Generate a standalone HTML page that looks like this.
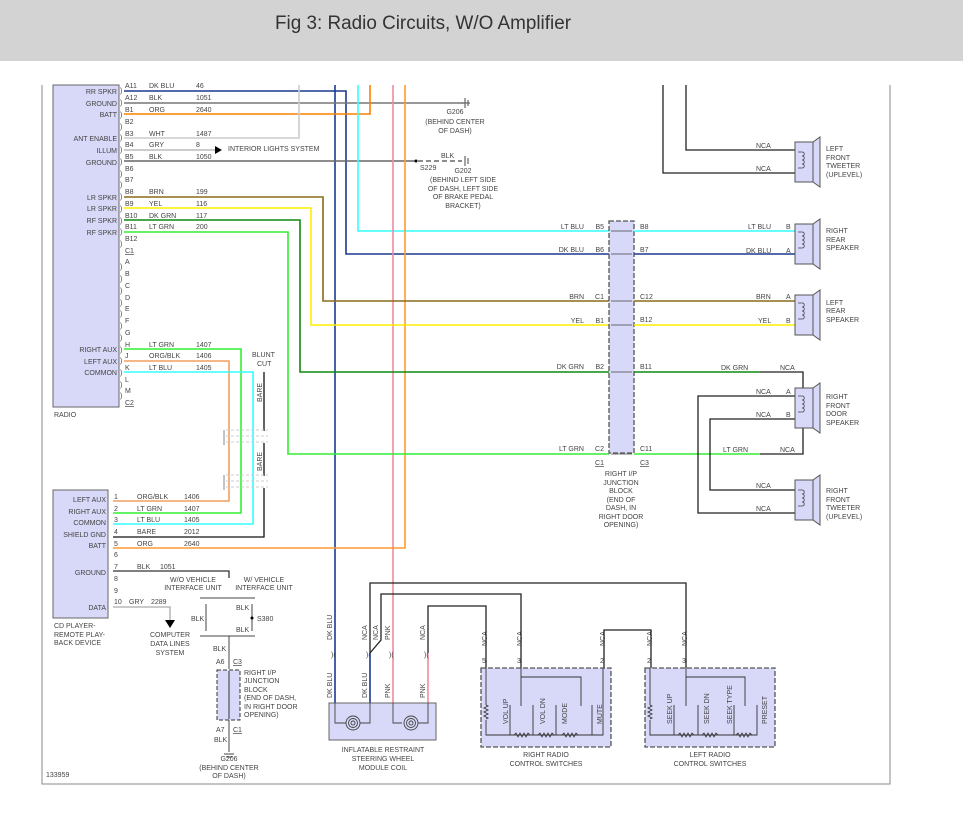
<!DOCTYPE html>
<html><head><meta charset="utf-8"><style>
html,body{margin:0;padding:0;background:#fff}
svg{display:block}
text{font-family:"Liberation Sans",sans-serif;font-size:7px;fill:#444}
</style></head><body>
<svg width="963" height="824" viewBox="0 0 963 824" xmlns="http://www.w3.org/2000/svg">
<rect x="0" y="0" width="963" height="61" fill="#d3d3d3"/>
<text x="275" y="29" style="font-size:19px;fill:#333" textLength="296" lengthAdjust="spacingAndGlyphs">Fig 3: Radio Circuits, W/O Amplifier</text>
<path d="M42 85 V784 H890 V85" fill="none" stroke="#888" stroke-width="1"/>

<rect x="53" y="85" width="66" height="322" fill="#d8d8f8" stroke="#666"/>
<g text-anchor="end">
<text x="117" y="94">RR SPKR</text><text x="117" y="106">GROUND</text><text x="117" y="117">BATT</text>
<text x="117" y="141">ANT ENABLE</text><text x="117" y="153">ILLUM</text><text x="117" y="165">GROUND</text>
<text x="117" y="200">LR SPKR</text><text x="117" y="211">LR SPKR</text><text x="117" y="223">RF SPKR</text><text x="117" y="235">RF SPKR</text>
<text x="117" y="352">RIGHT AUX</text><text x="117" y="364">LEFT AUX</text><text x="117" y="375">COMMON</text>
</g>
<text x="54" y="417">RADIO</text>
<g>
<text x="125" y="88">A11</text><text x="125" y="100">A12</text><text x="125" y="112">B1</text><text x="125" y="124">B2</text><text x="125" y="136">B3</text><text x="125" y="147">B4</text><text x="125" y="159">B5</text><text x="125" y="171">B6</text><text x="125" y="182">B7</text><text x="125" y="194">B8</text><text x="125" y="206">B9</text><text x="125" y="218">B10</text><text x="125" y="229">B11</text><text x="125" y="241">B12</text><text x="125" y="253" text-decoration="underline">C1</text>
<text x="125" y="264">A</text><text x="125" y="276">B</text><text x="125" y="288">C</text><text x="125" y="300">D</text><text x="125" y="311">E</text><text x="125" y="323">F</text><text x="125" y="335">G</text><text x="125" y="347">H</text><text x="125" y="358">J</text><text x="125" y="370">K</text><text x="125" y="382">L</text><text x="125" y="393">M</text><text x="125" y="405" text-decoration="underline">C2</text>
</g>
<g style="font-size:8px">
<text x="120" y="93">)</text><text x="120" y="105">)</text><text x="120" y="117">)</text><text x="120" y="129">)</text><text x="120" y="140">)</text><text x="120" y="152">)</text><text x="120" y="164">)</text><text x="120" y="176">)</text><text x="120" y="187">)</text><text x="120" y="199">)</text><text x="120" y="211">)</text><text x="120" y="223">)</text><text x="120" y="234">)</text><text x="120" y="246">)</text>
<text x="120" y="269">)</text><text x="120" y="281">)</text><text x="120" y="293">)</text><text x="120" y="305">)</text><text x="120" y="316">)</text><text x="120" y="328">)</text><text x="120" y="340">)</text><text x="120" y="352">)</text><text x="120" y="363">)</text><text x="120" y="375">)</text><text x="120" y="387">)</text><text x="120" y="398">)</text>
</g>
<g>
<text x="149" y="88">DK BLU</text><text x="196" y="88">46</text>
<text x="149" y="100">BLK</text><text x="196" y="100">1051</text>
<text x="149" y="112">ORG</text><text x="196" y="112">2640</text>
<text x="149" y="136">WHT</text><text x="196" y="136">1487</text>
<text x="149" y="147">GRY</text><text x="196" y="147">8</text>
<text x="149" y="159">BLK</text><text x="196" y="159">1050</text>
<text x="149" y="194">BRN</text><text x="196" y="194">199</text>
<text x="149" y="206">YEL</text><text x="196" y="206">116</text>
<text x="149" y="218">DK GRN</text><text x="196" y="218">117</text>
<text x="149" y="229">LT GRN</text><text x="196" y="229">200</text>
<text x="149" y="347">LT GRN</text><text x="196" y="347">1407</text>
<text x="149" y="358">ORG/BLK</text><text x="196" y="358">1406</text>
<text x="149" y="370">LT BLU</text><text x="196" y="370">1405</text>
<text x="228" y="151">INTERIOR LIGHTS SYSTEM</text>
<text x="252" y="357">BLUNT</text><text x="257" y="366">CUT</text>
<text x="455" y="114" text-anchor="middle">G206</text><text x="455" y="124" text-anchor="middle">(BEHIND CENTER</text><text x="455" y="133" text-anchor="middle">OF DASH)</text>
<text x="441" y="158">BLK</text><text x="420" y="170">S229</text>
<text x="463" y="173" text-anchor="middle">G202</text><text x="463" y="182" text-anchor="middle">(BEHIND LEFT SIDE</text><text x="463" y="191" text-anchor="middle">OF DASH, LEFT SIDE</text><text x="463" y="199" text-anchor="middle">OF BRAKE PEDAL</text><text x="463" y="208" text-anchor="middle">BRACKET)</text>
</g>
<g fill="none" stroke-width="1.6">
<path d="M124 91 H346 V254 H609" stroke="#1a3a8f"/>
<path d="M335 85 V703" stroke="#1a3a8f"/>
<path d="M124 103 H463" stroke="#777"/>
<path d="M124 114 H370 V85" stroke="#ff8000"/>
<path d="M124 138 H299 V85" stroke="#ccc"/>
<path d="M124 150 H215" stroke="#bbb"/>
<path d="M124 161 H410" stroke="#666"/>
<path d="M410 161 H462" stroke="#666" stroke-dasharray="5 3"/>
<path d="M358 85 V231 H609" stroke="#33ffff"/>
<path d="M393 85 V703" stroke="#f08aa0"/>
<path d="M405 85 V548 H113" stroke="#ff9a30"/>
<path d="M124 197 H323 V301 H609" stroke="#8c6a1a"/>
<path d="M124 208 H311 V325 H609" stroke="#ffee00"/>
<path d="M124 220 H300 V372 H609" stroke="#118811"/>
<path d="M124 232 H288 V454 H609" stroke="#33ee33"/>
<path d="M124 349 H241 V513 H113" stroke="#33ee33"/>
<path d="M124 361 H229 V501 H113" stroke="#f0a060"/>
<path d="M124 372 H253 V524 H113" stroke="#33ffff"/>
<path d="M264 372 V431 M264 443 V476 M264 488 V537 H113" stroke="#111" stroke-width="1.3"/>
<path d="M113 571 H229 V578" stroke="#333" stroke-width="1.3"/>
<path d="M113 607 H170 V620" stroke="#aaa" stroke-width="1.3"/>
</g>
<polygon points="215,146 222,150 215,154" fill="#000"/>
<circle cx="416" cy="161" r="1.5" fill="#000"/>
<g stroke="#666" stroke-width="1.2"><path d="M465 98 V108 M468 100 V106 M462 103 H470"/><path d="M465 156 V166 M468 158 V164"/></g>
<polygon points="165,620 175,620 170,628" fill="#000"/>
<g stroke="#ccc" stroke-dasharray="3 2" fill="none"><path d="M226 430 H268 M226 436 H268 M226 442 H268 M226 475 H268 M226 481 H268 M226 487 H268"/></g>
<path d="M224 430 V445 M224 475 V490" stroke="#888"/>
<text transform="translate(262,402) rotate(-90)">BARE</text>
<text transform="translate(262,471) rotate(-90)">BARE</text>

<rect x="53" y="490" width="55" height="128" fill="#d8d8f8" stroke="#666"/>
<g text-anchor="end">
<text x="106" y="502">LEFT AUX</text><text x="106" y="514">RIGHT AUX</text><text x="106" y="525">COMMON</text><text x="106" y="537">SHIELD GND</text><text x="106" y="548">BATT</text><text x="106" y="575">GROUND</text><text x="106" y="610">DATA</text>
</g>
<g>
<text x="114" y="499">1</text><text x="114" y="511">2</text><text x="114" y="522">3</text><text x="114" y="534">4</text><text x="114" y="546">5</text><text x="114" y="557">6</text><text x="114" y="569">7</text><text x="114" y="581">8</text><text x="114" y="593">9</text><text x="114" y="604">10</text>
<text x="137" y="499">ORG/BLK</text><text x="184" y="499">1406</text>
<text x="137" y="511">LT GRN</text><text x="184" y="511">1407</text>
<text x="137" y="522">LT BLU</text><text x="184" y="522">1405</text>
<text x="137" y="534">BARE</text><text x="184" y="534">2012</text>
<text x="137" y="546">ORG</text><text x="184" y="546">2640</text>
<text x="137" y="569">BLK</text><text x="160" y="569">1051</text>
<text x="129" y="604">GRY</text><text x="151" y="604">2289</text>
<text x="54" y="628">CD PLAYER-</text><text x="54" y="637">REMOTE PLAY-</text><text x="54" y="645">BACK DEVICE</text>
<text x="193" y="582" text-anchor="middle">W/O VEHICLE</text><text x="193" y="590" text-anchor="middle">INTERFACE UNIT</text>
<text x="264" y="582" text-anchor="middle">W/ VEHICLE</text><text x="264" y="590" text-anchor="middle">INTERFACE UNIT</text>
<text x="170" y="637" text-anchor="middle">COMPUTER</text><text x="170" y="646" text-anchor="middle">DATA LINES</text><text x="170" y="655" text-anchor="middle">SYSTEM</text>
<text x="236" y="610">BLK</text><text x="191" y="621">BLK</text><text x="257" y="621">S380</text><text x="236" y="632">BLK</text>
<text x="213" y="651">BLK</text><text x="216" y="664">A6</text><text x="233" y="664" text-decoration="underline">C3</text>
<text x="244" y="675">RIGHT I/P</text><text x="244" y="683">JUNCTION</text><text x="244" y="692">BLOCK</text><text x="244" y="700">(END OF DASH,</text><text x="244" y="709">IN RIGHT DOOR</text><text x="244" y="717">OPENING)</text>
<text x="216" y="732">A7</text><text x="233" y="732" text-decoration="underline">C1</text><text x="214" y="742">BLK</text>
<text x="229" y="761" text-anchor="middle">G206</text><text x="229" y="770" text-anchor="middle">(BEHIND CENTER</text><text x="229" y="778" text-anchor="middle">OF DASH)</text>
<text x="46" y="777">133959</text>
</g>
<g fill="none" stroke="#444" stroke-width="1">
<path d="M200 598 H255 M200 636 H255 M206 604 V631 M252 604 V631"/>
<path d="M229 636 V669 M229 720 V752"/>
<path d="M224 754 H234 M226 757 H232"/>
</g>
<circle cx="252" cy="618" r="1.5" fill="#000"/>
<rect x="217" y="670" width="23" height="50" fill="#d8d8f8" stroke="#333" stroke-dasharray="4 2"/>
<path d="M229 671 V719" stroke="#333"/>

<rect x="609" y="221" width="25" height="232" fill="#d8d8f8" stroke="#555" stroke-dasharray="5 2" stroke-width="1.3"/>
<g stroke="#444" stroke-width="0.8"><path d="M611 231 H632 M611 254 H632 M611 301 H632 M611 325 H632 M611 372 H632 M611 454 H632"/></g>
<g text-anchor="end">
<text x="584" y="229">LT BLU</text><text x="604" y="229">B5</text>
<text x="584" y="252">DK BLU</text><text x="604" y="252">B6</text>
<text x="584" y="299">BRN</text><text x="604" y="299">C1</text>
<text x="584" y="323">YEL</text><text x="604" y="323">B1</text>
<text x="584" y="369">DK GRN</text><text x="604" y="369">B2</text>
<text x="584" y="451">LT GRN</text><text x="604" y="451">C2</text>
<text x="604" y="465" text-decoration="underline">C1</text>
</g>
<g>
<text x="640" y="229">B8</text><text x="640" y="252">B7</text><text x="640" y="299">C12</text><text x="640" y="322">B12</text><text x="640" y="369">B11</text><text x="640" y="451">C11</text><text x="640" y="465" text-decoration="underline">C3</text>
</g>
<g text-anchor="middle"><text x="621" y="476">RIGHT I/P</text><text x="621" y="485">JUNCTION</text><text x="621" y="493">BLOCK</text><text x="621" y="502">(END OF</text><text x="621" y="510">DASH, IN</text><text x="621" y="519">RIGHT DOOR</text><text x="621" y="527">OPENING)</text></g>
<g fill="none" stroke-width="1.6">
<path d="M634 231 H795" stroke="#33ffff"/>
<path d="M634 254 H795" stroke="#1a3a8f"/>
<path d="M634 301 H795" stroke="#8c6a1a"/>
<path d="M634 325 H795" stroke="#ffee00"/>
<path d="M634 372 H760" stroke="#118811"/>
<path d="M634 454 H760" stroke="#33ee33"/>
<g stroke="#222" stroke-width="1.3">
<path d="M663 85 V173 H795 M686 85 V150 H795"/>
<path d="M760 372 H803 V388 M760 454 H803 V428"/>
<path d="M795 396 H698 V513 H795 M795 419 H710 V490 H795"/>
</g>
</g>
<g>
<text x="748" y="229">LT BLU</text><text x="786" y="229">B</text>
<text x="746" y="253">DK BLU</text><text x="786" y="253">A</text>
<text x="756" y="299">BRN</text><text x="786" y="299">A</text>
<text x="758" y="323">YEL</text><text x="786" y="323">B</text>
<text x="721" y="370">DK GRN</text><text x="780" y="370">NCA</text>
<text x="756" y="394">NCA</text><text x="786" y="394">A</text>
<text x="756" y="417">NCA</text><text x="786" y="417">B</text>
<text x="723" y="452">LT GRN</text><text x="780" y="452">NCA</text>
<text x="756" y="148">NCA</text><text x="756" y="171">NCA</text>
<text x="756" y="488">NCA</text><text x="756" y="511">NCA</text>
<text x="826" y="151">LEFT</text><text x="826" y="160">FRONT</text><text x="826" y="168">TWEETER</text><text x="826" y="177">(UPLEVEL)</text>
<text x="826" y="233">RIGHT</text><text x="826" y="242">REAR</text><text x="826" y="250">SPEAKER</text>
<text x="826" y="305">LEFT</text><text x="826" y="313">REAR</text><text x="826" y="322">SPEAKER</text>
<text x="826" y="399">RIGHT</text><text x="826" y="408">FRONT</text><text x="826" y="416">DOOR</text><text x="826" y="425">SPEAKER</text>
<text x="826" y="493">RIGHT</text><text x="826" y="502">FRONT</text><text x="826" y="510">TWEETER</text><text x="826" y="519">(UPLEVEL)</text>
</g>
<g fill="#d8d8f8" stroke="#555">
<rect x="795" y="142" width="18" height="40"/><polygon points="813,142 820,137 820,187 813,182"/>
<rect x="795" y="224" width="18" height="40"/><polygon points="813,224 820,219 820,269 813,264"/>
<rect x="795" y="295" width="18" height="40"/><polygon points="813,295 820,290 820,340 813,335"/>
<rect x="795" y="388" width="18" height="40"/><polygon points="813,388 820,383 820,433 813,428"/>
<rect x="795" y="480" width="18" height="40"/><polygon points="813,480 820,475 820,525 813,520"/>
</g>
<g fill="none" stroke="#444" stroke-width="0.8">
<path d="M798 152 h4 c3 0 3 4 0 4 c3 0 3 4 0 4 c3 0 3 4 0 4 c3 0 3 4 0 4 h-4"/>
<path d="M798 232 h4 c3 0 3 4 0 4 c3 0 3 4 0 4 c3 0 3 4 0 4 c3 0 3 4 0 4 h-4"/>
<path d="M798 303 h4 c3 0 3 4 0 4 c3 0 3 4 0 4 c3 0 3 4 0 4 c3 0 3 4 0 4 h-4"/>
<path d="M798 396 h4 c3 0 3 4 0 4 c3 0 3 4 0 4 c3 0 3 4 0 4 c3 0 3 4 0 4 h-4"/>
<path d="M798 490 h4 c3 0 3 4 0 4 c3 0 3 4 0 4 c3 0 3 4 0 4 c3 0 3 4 0 4 h-4"/>
</g>

<g fill="none" stroke-width="1.6">
<path d="M370 653 V703" stroke="#1a3a8f"/>
<path d="M428 653 V703" stroke="#f08aa0"/>
<g stroke="#222" stroke-width="1.3">
<path d="M370 653 V583 H686 V668"/>
<path d="M370 653 L381 640 V594 H521 V668"/>
<path d="M428 653 V606 H486 V668"/>
<path d="M604 668 V630 H651 V668"/>
</g>
</g>
<rect x="329" y="703" width="107" height="37" fill="#d8d8f8" stroke="#666"/>
<rect x="481" y="668" width="130" height="79" fill="#d8d8f8" stroke="#555" stroke-dasharray="5 2" stroke-width="1.3"/>
<rect x="645" y="668" width="130" height="79" fill="#d8d8f8" stroke="#555" stroke-dasharray="5 2" stroke-width="1.3"/>
<g fill="none" stroke="#444" stroke-width="0.9">
<path d="M335 703 V723 H346 M370 703 V723 H360 M393 703 V723 H402 M428 703 V723 H418"/>
<circle cx="353" cy="723" r="7"/><circle cx="353" cy="723" r="4.5"/><circle cx="353" cy="723" r="2"/>
<circle cx="411" cy="723" r="7"/><circle cx="411" cy="723" r="4.5"/><circle cx="411" cy="723" r="2"/>
</g>
<g style="font-size:8px;fill:#333"><text x="331" y="657">)(</text><text x="366" y="657">)(</text><text x="389" y="657">)(</text><text x="424" y="657">)(</text></g>
<g>
<text transform="translate(332,640) rotate(-90)">DK BLU</text>
<text transform="translate(367,640) rotate(-90)">NCA</text>
<text transform="translate(378,640) rotate(-90)">NCA</text>
<text transform="translate(390,640) rotate(-90)">PNK</text>
<text transform="translate(425,640) rotate(-90)">NCA</text>
<text transform="translate(332,698) rotate(-90)">DK BLU</text>
<text transform="translate(367,698) rotate(-90)">DK BLU</text>
<text transform="translate(390,698) rotate(-90)">PNK</text>
<text transform="translate(425,698) rotate(-90)">PNK</text>
<text x="383" y="752" text-anchor="middle">INFLATABLE RESTRAINT</text><text x="383" y="761" text-anchor="middle">STEERING WHEEL</text><text x="383" y="770" text-anchor="middle">MODULE COIL</text>
<text x="546" y="757" text-anchor="middle">RIGHT RADIO</text><text x="546" y="766" text-anchor="middle">CONTROL SWITCHES</text>
<text x="710" y="757" text-anchor="middle">LEFT RADIO</text><text x="710" y="766" text-anchor="middle">CONTROL SWITCHES</text>
<text transform="translate(487,646) rotate(-90)">NCA</text><text transform="translate(522,646) rotate(-90)">NCA</text><text transform="translate(605,646) rotate(-90)">NCA</text>
<text transform="translate(652,646) rotate(-90)">NCA</text><text transform="translate(687,646) rotate(-90)">NCA</text>
<text x="482" y="663">5</text><text x="517" y="663">3</text><text x="600" y="663">2</text><text x="647" y="663">2</text><text x="682" y="663">3</text>
<text transform="translate(508,724) rotate(-90)">VOL UP</text>
<text transform="translate(545,724) rotate(-90)">VOL DN</text>
<text transform="translate(567,724) rotate(-90)">MODE</text>
<text transform="translate(602,724) rotate(-90)">MUTE</text>
<text transform="translate(672,724) rotate(-90)">SEEK UP</text>
<text transform="translate(709,724) rotate(-90)">SEEK DN</text>
<text transform="translate(732,724) rotate(-90)">SEEK TYPE</text>
<text transform="translate(767,724) rotate(-90)">PRESET</text>
</g>
<g fill="none" stroke="#333" stroke-width="0.9">
<path d="M486 668 V705 M486 720 V735 H603 V668"/>
<path d="M486 705 l2 1 l-4 2 l4 2 l-4 2 l4 2 l-4 2 l4 2 l-2 1"/>
<path d="M521 668 V706 M521 677 H581 V706"/>
<path d="M510 705 V735 M533 705 V735 M556 705 V735 M592 705 V735"/>
<path d="M650 668 V705 M650 720 V735 H757 V705"/>
<path d="M650 705 l2 1 l-4 2 l4 2 l-4 2 l4 2 l-4 2 l4 2 l-2 1"/>
<path d="M686 668 V706 M686 677 H745 V706"/>
<path d="M674 705 V735 M698 705 V735 M734 705 V735"/>
</g>
<g stroke="#333" stroke-width="0.8" fill="none">
<path d="M514 735 l2 -2 l2 4 l2 -4 l2 4 l2 -4 l2 4 l2 -4 l2 2 M538 735 l2 -2 l2 4 l2 -4 l2 4 l2 -4 l2 4 l2 -4 l2 2 M562 735 l2 -2 l2 4 l2 -4 l2 4 l2 -4 l2 4 l2 -4 l2 2"/>
<path d="M678 735 l2 -2 l2 4 l2 -4 l2 4 l2 -4 l2 4 l2 -4 l2 2 M702 735 l2 -2 l2 4 l2 -4 l2 4 l2 -4 l2 4 l2 -4 l2 2 M736 735 l2 -2 l2 4 l2 -4 l2 4 l2 -4 l2 4 l2 -4 l2 2"/>
</g>
</svg>
</body></html>
